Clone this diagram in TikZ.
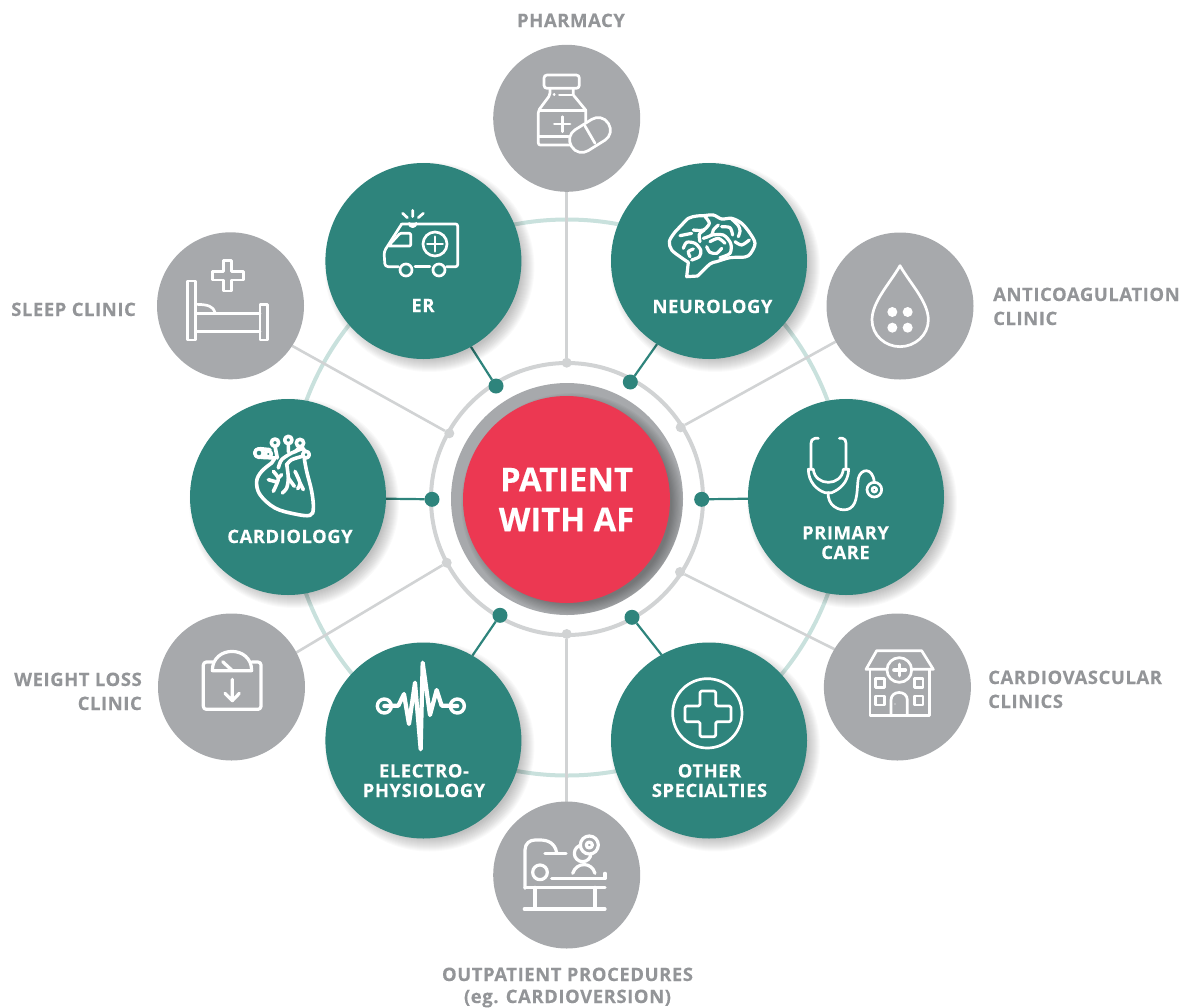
\documentclass[tikz,border=0pt]{standalone}
\usepackage{fontspec}
\setmainfont{Open Sans}[BoldFeatures={FakeBold=0.25}]
\newfontfamily\lab[LetterSpace=3,BoldFeatures={FakeBold=0.25}]{Open Sans}
\usetikzlibrary{calc}
\definecolor{teal1}{HTML}{2E847C}
\definecolor{gray1}{HTML}{A7A9AC}
\definecolor{red1}{HTML}{EC3852}
\definecolor{labgray}{HTML}{939598}
\definecolor{ringgray}{HTML}{D1D3D4}
\definecolor{pale}{HTML}{C9E1DD}
\pgfdeclarelayer{bg}
\pgfdeclarelayer{shade}
\pgfsetlayers{bg,shade,main}
\tikzset{
  tealnode/.style={circle,fill=teal1,minimum size=196pt,inner sep=0pt,outer sep=0pt},
  graynode/.style={circle,fill=gray1,minimum size=147pt,inner sep=0pt,outer sep=0pt},
  tealdot/.style={circle,fill=teal1,minimum size=15pt,inner sep=0pt,outer sep=0pt},
  graydot/.style={circle,fill=ringgray,minimum size=10pt,inner sep=0pt,outer sep=0pt},
  greyline/.style={draw=ringgray,line width=2.6pt},
  tealline/.style={draw=teal1,line width=2.2pt},
  tlabel/.style={font=\lab\bfseries\fontsize{18.4}{19.6}\selectfont,text=white,align=center,inner sep=0pt,anchor=base},
  glabel/.style={font=\lab\bfseries\fontsize{18.5}{24}\selectfont,text=labgray,inner sep=0pt,anchor=base},
  icon/.style={draw=white,line width=2.7pt,line cap=round,line join=round},
  zoomA/.style={shift={(320,40)},x=0.33333pt,y=-0.33333pt},
  zoomB/.style={shift={(150,225)},x=0.33333pt,y=-0.33333pt},
  zoomC/.style={shift={(750,225)},x=0.33333pt,y=-0.33333pt},
  zoomD/.style={shift={(150,610)},x=0.33333pt,y=-0.33333pt},
  zoomE/.style={shift={(620,610)},x=0.33333pt,y=-0.33333pt},
  zoomBrain/.style={shift={(660,205)},x=0.33333pt,y=-0.33333pt},
  zoomHeart/.style={shift={(245,428)},x=0.33333pt,y=-0.33333pt},
}
\begin{document}
\begin{tikzpicture}[x=1pt,y=-1pt]
\useasboundingbox (0,0) rectangle (1186,1007);
% outer gray nodes
\node[graynode] (pharm) at (566.7,118.3) {};
\node[graynode] (sleep) at (230.5,305.8) {};
\node[graynode] (anti) at (900,306) {};
\node[graynode] (weight) at (231.5,687) {};
\node[graynode] (cardv) at (897.4,687) {};
\node[graynode] (outp) at (566.7,875) {};
% ring
\node[circle,draw=ringgray,line width=4pt,minimum size=272pt,inner sep=0pt,outer sep=0pt] (ring) at (567,499) {};
\node[graydot] (gt) at (566.7,362.7) {};
\node[graydot] (gul) at (449.3,433.3) {};
\node[graydot] (gur) at (680.7,427.3) {};
\node[graydot] (gll) at (446.7,562.7) {};
\node[graydot] (glr) at (680,572) {};
\node[graydot] (gb) at (566.7,634) {};
\node[tealdot] (der) at (496,386) {};
\node[tealdot] (dne) at (630.3,382) {};
\node[tealdot] (dca) at (432,499.3) {};
\node[tealdot] (dpr) at (701.7,499.3) {};
\node[tealdot] (del) at (500,615.3) {};
\node[tealdot] (dot) at (632,617.3) {};
% teal nodes
\node[tealnode] (er) at (423.4,261) {};
\node[tealnode] (neuro) at (709,261) {};
\node[tealnode] (cardio) at (288,497) {};
\node[tealnode] (prim) at (846,497) {};
\node[tealnode] (elec) at (423.4,740.5) {};
\node[tealnode] (other) at (709,740.5) {};
% centre
\node[circle,fill=gray1,minimum size=232pt,inner sep=0pt,outer sep=0pt] (halo) at (567,499) {};
\begin{scope}
\clip (567,499) circle[radius=116];
\foreach \i in {0,...,9}
  \fill[black,opacity=.03] (572,504) circle[radius={100+\i*1.2}];
\end{scope}
\node[circle,fill=red1,minimum size=207pt,inner sep=0pt,outer sep=0pt,text=white,align=center,font=\bfseries\fontsize{32.7}{40}\selectfont] (af) at (566.5,499.5) {PATIENT\\WITH AF};
% background
\begin{pgfonlayer}{bg}
\draw[pale,line width=4pt] (567,497.5) circle[radius=278];
\draw[greyline] (pharm) -- (gt);
\draw[greyline] (outp) -- (gb);
\draw[greyline] (sleep.-33.6) -- (gul);
\draw[greyline] (anti.209.6) -- (gur);
\draw[greyline] (weight.28.4) -- (gll);
\draw[greyline] (cardv.149.5) -- (glr);
\draw[tealline] (er.-61.5) -- (der);
\draw[tealline] (neuro.238.6) -- (dne);
\draw[tealline] (cardio.-1) -- (dca);
\draw[tealline] (prim.181) -- (dpr);
\draw[tealline] (elec.60.5) -- (del);
\draw[tealline] (other.119.8) -- (dot);
\end{pgfonlayer}
\begin{pgfonlayer}{shade}
\foreach \n in {er,neuro,cardio,prim,elec,other}{
  \foreach \i in {0,...,13}
    \fill[black,opacity=.02] ($(\n.center)+(6,6)$) circle[radius={92+\i}];
}
\end{pgfonlayer}
% teal labels
\node[tlabel] (ter) at (423,312) {ER};
\node[tlabel] (tne) at (712.5,313) {NEUROLOGY};
\node[tlabel] (tca) at (290,543) {CARDIOLOGY};
\node[tlabel] (tpr) at (845.5,559) {PRIMARY\\CARE};
\node[tlabel] (tel) at (424,797) {ELECTRO-\\PHYSIOLOGY};
\node[tlabel] (tot) at (709.5,797) {OTHER\\SPECIALTIES};
% gray labels
\node[glabel] (lph) at (571,27) {PHARMACY};
\node[glabel,anchor=base west] (lsl) at (11,316) {SLEEP CLINIC};
\node[glabel,anchor=base west,align=left] (lan) at (993,325) {ANTICOAGULATION\\CLINIC};
\node[glabel,anchor=base west,align=left] (lcv) at (988,708) {CARDIOVASCULAR\\CLINICS};
\node[glabel,anchor=base east,align=right] (lwe) at (142,710) {WEIGHT LOSS\\CLINIC};
\node[glabel,align=center,font=\lab\bfseries\fontsize{18.5}{22}\selectfont] (lou) at (567.5,1003) {OUTPATIENT PROCEDURES\\(eg. CARDIOVERSION)};
% ---- icons ----
% bottle + pill
\begin{scope}[zoomA,icon]
\draw[rounded corners=3pt] (672,105) rectangle (778,145);
\draw[rounded corners=2pt] (690,147)--(690,165)--(655,212)--(655,315)--(750,315);
\draw (760,147)--(760,165)--(797,210)--(797,245);
\draw (658,212)--(795,212);
\draw (658,290)--(745,290);
\draw (703,252)--(750,252) (727,230)--(727,275);
\draw (702,164)--(703,164) (718,165)--(755,165);
\draw[fill=gray1,rounded corners=11.8pt,rotate around={32:(810,285)}] (745,248) rectangle (875,322);
\draw (795,258)--(825,310);
\end{scope}
% ambulance
\begin{scope}[zoomA,icon]
\draw[rounded corners=2pt] (245,552)--(413,552)--(413,680)--(380,680);
\draw[rounded corners=3pt] (235,680)--(195,680)--(192,635)--(245,552);
\draw[rounded corners=1pt] (205,618)--(272,618)--(272,580)--(240,580)--cycle;
\draw (258,690) circle[radius=18];
\draw (357,690) circle[radius=18];
\draw (285,680)--(330,680);
\draw (345,612) circle[radius=36];
\draw (322,612)--(368,612) (345,590)--(345,634);
\draw (268,550) arc[start angle=180,end angle=0,radius=10];
\draw (248,520)--(262,533) (278,511)--(278,530) (310,520)--(295,533);
\end{scope}
% brain
\begin{scope}[zoomBrain,icon,line width=3.2pt]
\draw plot[smooth,tension=.55] coordinates {(85,172)(60,155)(35,135)(28,110)(42,85)(63,62)(85,40)(110,33)(130,32)(160,30)(185,42)(215,40)(245,55)(270,85)(285,115)(272,145)(255,156)(210,158)(170,170)(150,177)(113,213)};
\draw (85,172)--(80,215)--(113,213);
\draw plot[smooth] coordinates {(60,92)(95,85)};
\draw plot[smooth] coordinates {(100,75)(130,75)(148,55)(135,35)};
\draw plot[smooth] coordinates {(120,110)(118,88)(133,75)};
\draw plot[smooth] coordinates {(70,130)(80,112)(105,115)(122,135)(118,155)(95,165)};
\draw plot[smooth] coordinates {(90,155)(85,140)(100,132)};
\draw plot[smooth] coordinates {(130,100)(155,90)(160,75)(175,60)};
\draw plot[smooth] coordinates {(155,90)(190,90)(212,115)(210,145)(180,158)};
\draw plot[smooth] coordinates {(140,125)(150,142)(170,145)(185,130)};
\draw plot[smooth] coordinates {(150,110)(175,100)(195,115)};
\draw plot[smooth] coordinates {(185,65)(210,68)(218,90)};
\draw plot[smooth] coordinates {(225,110)(245,120)(268,105)};
\draw plot[smooth] coordinates {(215,42)(235,62)(240,78)(235,95)};
\end{scope}
% bed
\begin{scope}[zoomB,icon]
\draw (113,168) rectangle (137,345);
\draw (330,238) rectangle (353,345);
\draw (137,265)--(330,265) (137,320)--(330,320);
\draw (137,238) .. controls (175,238) and (190,245) .. (195,262);
\draw (220,107)--(245,107)--(245,140)--(280,140)--(280,165)--(245,165)--(245,198)--(220,198)--(220,165)--(187,165)--(187,140)--(220,140)--cycle;
\end{scope}
% heart
\begin{scope}[zoomHeart,icon,line width=3.6pt]
\draw plot[smooth,tension=.6] coordinates {(80,105)(50,130)(35,160)(45,200)(90,240)(150,258)(195,262)(205,240)(200,190)(185,130)(178,92)};
\draw (45,62)--(75,65) (48,88)--(90,90)--(80,105);
\draw (42,75) circle[radius=13];
\draw (70,78) circle[radius=9];
\draw (90,44) circle[radius=11];
\draw (130,36) circle[radius=11];
\draw (165,45) circle[radius=11];
\draw (183,80) circle[radius=10];
\draw (90,55)--(97,90) (130,47)--(130,72) (165,56)--(150,72) (170,56)--(180,70);
\draw plot[smooth] coordinates {(100,120)(110,95)(140,75)(172,62)};
\draw plot[smooth] coordinates {(125,110)(140,95)(172,85)};
\draw plot[smooth] coordinates {(85,130)(100,150)(95,168)(85,190)};
\draw (70,155)--(95,162) (100,150)--(110,140);
\draw plot[smooth] coordinates {(125,108)(130,150)(125,180)(112,195)};
\draw (130,150)--(148,175);
\draw plot[smooth] coordinates {(150,130)(165,165)(158,182)};
\draw (165,165)--(175,185);
\end{scope}
% drop
\begin{scope}[zoomC,icon]
\draw (450,122) .. controls (420,175) and (366,230) .. (366,285) .. controls (366,330) and (405,365) .. (450,365) .. controls (495,365) and (535,330) .. (535,285) .. controls (535,230) and (480,175) .. cycle;
\fill[white] (427,261) circle[radius=15] (473,261) circle[radius=15] (427,308) circle[radius=15] (473,308) circle[radius=15];
\end{scope}
% stethoscope
\begin{scope}[zoomC,icon]
\draw (205,640)--(195,640) .. controls (186,640) and (183,648) .. (183,655)--(183,733);
\draw (268,640)--(278,640) .. controls (285,640) and (288,648) .. (288,655)--(288,733);
\draw (175,733)--(190,733) .. controls (195,785) and (275,785) .. (280,733)--(296,733) .. controls (295,775) and (265,795) .. (245,803)--(225,803) .. controls (200,795) and (175,770) .. cycle;
\draw (235,803)--(235,815) .. controls (240,850) and (280,862) .. (300,850) .. controls (325,835) and (320,790) .. (325,760) .. controls (332,730) and (368,725) .. (373,772);
\draw (373,794) circle[radius=22];
\draw (373,794) circle[radius=7];
\end{scope}
% scale
\begin{scope}[zoomD,icon,line width=3.2pt]
\draw[rounded corners=3pt] (188,156)--(160,156)--(160,298)--(333,298)--(333,156)--(305,156);
\draw (187,182) .. controls (187,105) and (305,105) .. (305,182) -- cycle;
\draw (218,155)--(245,180);
\draw (247,208)--(247,270) (225,250)--(247,272)--(268,250);
\end{scope}
% ECG
\begin{scope}[zoomD,icon,line width=4.2pt]
\draw[line width=3.4pt] (703,288) circle[radius=21];
\draw[line width=3.4pt] (922,288) circle[radius=21];
\draw (703,288)--(745,287)--(762,252)--(777,342)--(795,218)--(812,418)--(818,158)--(840,315)--(860,240)--(875,287)--(922,288);
\end{scope}
% operating table
\begin{scope}[zoomD,icon,line width=3.2pt]
\draw (1125,835)--(1125,720) .. controls (1125,700) and (1140,690) .. (1155,690)--(1170,690) .. controls (1195,690) and (1215,700) .. (1220,728);
\draw (1185,730)--(1248,730);
\draw (1170,787) circle[radius=22];
\draw (1205,806)--(1365,806)--(1365,790);
\draw (1125,832)--(1365,832);
\draw (1155,832)--(1155,897) (1335,832)--(1335,897);
\draw (1123,897)--(1365,897);
\draw (1268,790) .. controls (1280,755) and (1325,755) .. (1335,790);
\draw (1298,730) circle[radius=25];
\draw[fill=gray1] (1318,705) circle[radius=27];
\draw (1318,705) circle[radius=9];
\end{scope}
% cross in circle
\begin{scope}[zoomE,icon]
\draw (262,310) circle[radius=104];
\draw[rounded corners=1.5pt] (240,243)--(287,243)--(287,288)--(333,288)--(333,335)--(287,335)--(287,380)--(240,380)--(240,335)--(195,335)--(195,288)--(240,288)--cycle;
\end{scope}
% hospital
\begin{scope}[zoomE,icon]
\draw (738,178)--(770,122)--(905,122)--(940,178)--cycle;
\draw (750,180)--(750,317)--(928,317)--(928,180);
\draw[fill=gray1] (838,180) circle[radius=37];
\draw[line width=3.6pt] (822,180)--(856,180) (839,163)--(839,197);
\draw (767,205) rectangle (793,232) (883,205) rectangle (909,232) (767,258) rectangle (793,285) (883,258) rectangle (909,285);
\draw (813,317)--(813,270) .. controls (813,240) and (862,240) .. (862,270)--(862,317);
\fill[white] (825,282) circle[radius=2];
\end{scope}
\end{tikzpicture}
\end{document}
